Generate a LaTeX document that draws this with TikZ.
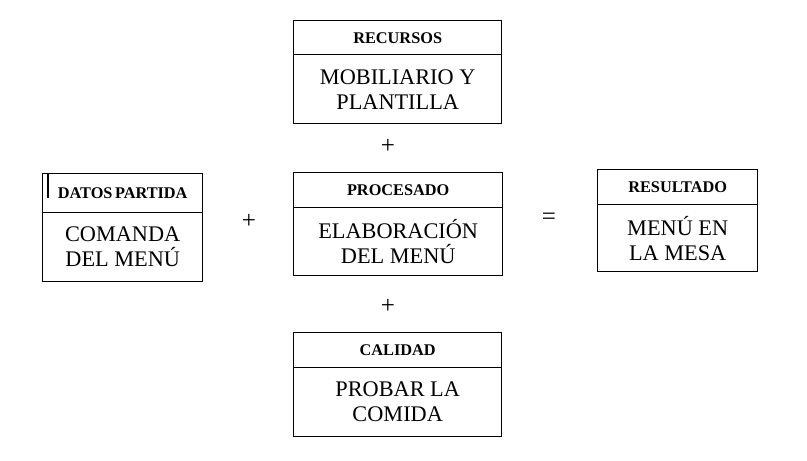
\documentclass[tikz,border=0pt]{standalone}
\usepackage{fontspec}
\setmainfont{Liberation Serif}
\begin{document}
\begin{tikzpicture}[x=1pt,y=-1pt,
  hdr/.style={draw, line width=1.4pt, anchor=north west, inner sep=0pt, align=center,
    font=\bfseries\fontsize{16.3}{18}\selectfont},
  bodybox/.style={draw, line width=1.4pt, anchor=north west, inner sep=0pt, align=center,
    font=\fontsize{22.3}{25}\selectfont},
  sign/.style={inner sep=0pt, font=\fontsize{25}{28}\selectfont}]
\useasboundingbox (0,0) rectangle (807,461);
% RECURSOS
\node[hdr, minimum width=208pt, minimum height=34pt] (rech) at (293,20) {RECURSOS};
\node[bodybox, minimum width=208pt, minimum height=69pt] (recb) at (293,54) {MOBILIARIO Y\\PLANTILLA};
% DATOS PARTIDA
\node[hdr, minimum width=160pt, minimum height=39pt] (dath) at (42,173) {DATOS\hspace{2.5pt}PARTIDA};
\node[bodybox, minimum width=160pt, minimum height=69pt] (datb) at (42,212) {COMANDA\\DEL MENÚ};
\coordinate (curtop) at (47.5,174);
\coordinate (curbot) at (47.5,198);
\draw[line width=2pt] (curtop) -- (curbot);
% PROCESADO
\node[hdr, minimum width=209pt, minimum height=35pt] (proh) at (293,172) {PROCESADO};
\node[bodybox, minimum width=209pt, minimum height=68pt] (prob) at (293,207) {ELABORACIÓN\\DEL MENÚ};
% RESULTADO
\node[hdr, minimum width=160pt, minimum height=35pt] (resh) at (597,169) {RESULTADO};
\node[bodybox, minimum width=160pt, minimum height=67pt] (resb) at (597,204) {MENÚ EN\\LA MESA};
% CALIDAD
\node[hdr, minimum width=208pt, minimum height=35pt] (calh) at (293,332) {CALIDAD};
\node[bodybox, minimum width=208pt, minimum height=69pt] (calb) at (293,367) {PROBAR LA\\COMIDA};
% signs
\node[sign] (p1) at (388,146) {+};
\node[sign] (p2) at (249,221) {+};
\node[sign] (eq) at (549,219) {=};
\node[sign] (p3) at (388,306) {+};
\end{tikzpicture}
\end{document}
